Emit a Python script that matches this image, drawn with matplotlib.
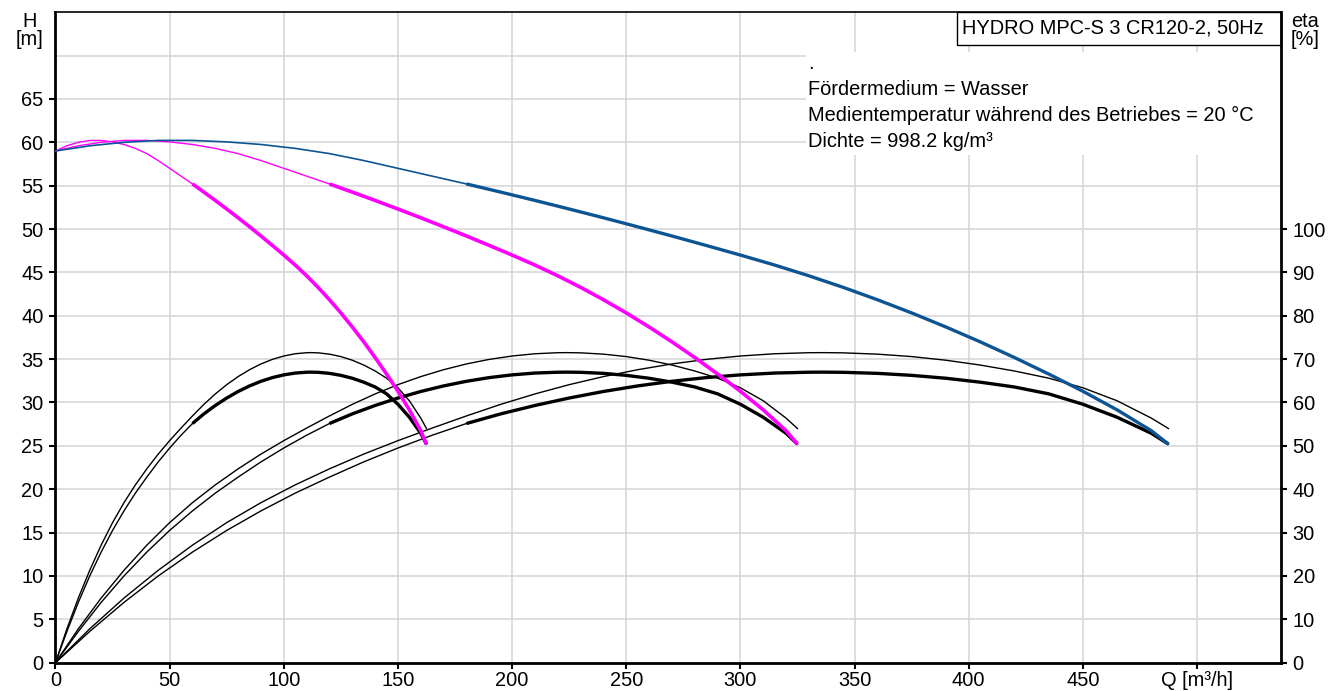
import matplotlib
matplotlib.use("Agg")
import matplotlib.pyplot as plt
from matplotlib.patches import Rectangle
from matplotlib.transforms import Affine2D

plt.rcParams['font.family'] = ['Liberation Sans', 'DejaVu Sans']

# head curves H [m] over Q [m3/h] (1, 2 and 3 pumps running)
q_h1 = [0, 5, 10, 15, 20, 25, 30, 35, 40, 45, 50, 55, 60, 65, 70, 75, 80, 85, 90, 95, 100,
        105, 110, 115, 120, 125, 130, 135, 140, 145, 150, 155, 160, 162.5]
h_1 = [59.0, 59.6, 60.0, 60.22, 60.22, 60.05, 59.75, 59.3, 58.7, 57.9, 57.0, 56.1, 55.2, 54.26,
       53.3, 52.31, 51.3, 50.26, 49.2, 48.11, 47.0, 45.85, 44.61, 43.28, 41.85, 40.33, 38.71,
       37.0, 35.19, 33.29, 31.3, 29.15, 26.75, 25.2]
q_h2 = [0, 10, 20, 30, 40, 50, 60, 70, 80, 90, 100, 110, 120, 130, 140, 150, 160, 170, 180, 190,
        200, 210, 220, 230, 240, 250, 260, 270, 280, 290, 300, 310, 320, 325]
h_2 = [59.0, 59.6, 60.0, 60.22, 60.22, 60.05, 59.75, 59.3, 58.7, 57.9, 57.0, 56.1, 55.2, 54.26,
       53.3, 52.31, 51.3, 50.26, 49.2, 48.11, 47.0, 45.85, 44.61, 43.28, 41.85, 40.33, 38.71,
       37.0, 35.19, 33.29, 31.3, 29.15, 26.75, 25.2]
q_h3 = [0, 15, 30, 45, 60, 75, 90, 105, 120, 135, 150, 165, 180, 195, 210, 225, 240, 255, 270,
        285, 300, 315, 330, 345, 360, 375, 390, 405, 420, 435, 450, 465, 480, 487.5]
h_3 = [59.0, 59.6, 60.0, 60.22, 60.22, 60.05, 59.75, 59.3, 58.7, 57.9, 57.0, 56.1, 55.2, 54.26,
       53.3, 52.31, 51.3, 50.26, 49.2, 48.11, 47.0, 45.85, 44.61, 43.28, 41.85, 40.33, 38.71,
       37.0, 35.19, 33.29, 31.3, 29.15, 26.75, 25.2]

# efficiency curves eta [%]: upper = pump, lower = total
q_eta1 = [0, 5, 10, 15, 20, 25, 30, 35, 40, 45, 50, 55, 60, 65, 70, 75, 80, 85, 90, 95, 100,
          105, 110, 112, 115, 120, 125, 130, 135, 140, 145, 150, 155, 160, 162.5]
q_eta2 = [0, 10, 20, 30, 40, 50, 60, 70, 80, 90, 100, 110, 120, 130, 140, 150, 160, 170, 180,
          190, 200, 210, 220, 224, 230, 240, 250, 260, 270, 280, 290, 300, 310, 320, 325]
q_eta3 = [0, 15, 30, 45, 60, 75, 90, 105, 120, 135, 150, 165, 180, 195, 210, 225, 240, 255, 270,
          285, 300, 315, 330, 336, 345, 360, 375, 390, 405, 420, 435, 450, 465, 480, 487.5]
eta_pump_1 = [0, 7.8, 14.9, 21.3, 27.1, 32.3, 36.9, 41.0, 44.7, 48.1, 51.2, 54.1, 56.9, 59.57,
              61.97, 64.11, 65.97, 67.56, 68.89, 69.94, 70.72, 71.24, 71.48, 71.5, 71.45, 71.15,
              70.59, 69.75, 68.64, 67.27, 65.62, 63.4, 60.4, 56.4, 54.0]
eta_pump_2 = [0, 7.8, 14.9, 21.3, 27.1, 32.3, 36.9, 41.0, 44.7, 48.1, 51.2, 54.1, 56.9, 59.57,
              61.97, 64.11, 65.97, 67.56, 68.89, 69.94, 70.72, 71.24, 71.48, 71.5, 71.45, 71.15,
              70.59, 69.75, 68.64, 67.27, 65.62, 63.4, 60.4, 56.4, 54.0]
eta_pump_3 = [0, 7.8, 14.9, 21.3, 27.1, 32.3, 36.9, 41.0, 44.7, 48.1, 51.2, 54.1, 56.9, 59.57,
              61.97, 64.11, 65.97, 67.56, 68.89, 69.94, 70.72, 71.24, 71.48, 71.5, 71.45, 71.15,
              70.59, 69.75, 68.64, 67.27, 65.62, 63.4, 60.4, 56.4, 54.0]
eta_tot_1 = [0, 7.2, 13.9, 20.0, 25.5, 30.5, 35.0, 39.1, 42.8, 46.3, 49.5, 52.45, 55.15, 57.37,
             59.31, 61.03, 62.54, 63.82, 64.89, 65.74, 66.37, 66.79, 66.98, 67.0, 66.96, 66.72,
             66.26, 65.59, 64.69, 63.58, 62.0, 59.6, 56.6, 52.9, 50.4]
eta_tot_2 = [0, 7.2, 13.9, 20.0, 25.5, 30.5, 35.0, 39.1, 42.8, 46.3, 49.5, 52.45, 55.15, 57.37,
             59.31, 61.03, 62.54, 63.82, 64.89, 65.74, 66.37, 66.79, 66.98, 67.0, 66.96, 66.72,
             66.26, 65.59, 64.69, 63.58, 62.0, 59.6, 56.6, 52.9, 50.4]
eta_tot_3 = [0, 7.2, 13.9, 20.0, 25.5, 30.5, 35.0, 39.1, 42.8, 46.3, 49.5, 52.45, 55.15, 57.37,
             59.31, 61.03, 62.54, 63.82, 64.89, 65.74, 66.37, 66.79, 66.98, 67.0, 66.96, 66.72,
             66.26, 65.59, 64.69, 63.58, 62.0, 59.6, 56.6, 52.9, 50.4]

# start of the recommended duty range (thick part)
duty_start = [60, 120, 180]

x_ticks = [0, 50, 100, 150, 200, 250, 300, 350, 400, 450, 500]
x_labels = ["0", "50", "100", "150", "200", "250", "300", "350", "400", "450", "Q [m³/h]"]
h_ticks = [0, 5, 10, 15, 20, 25, 30, 35, 40, 45, 50, 55, 60, 65]
eta_ticks = [0, 10, 20, 30, 40, 50, 60, 70, 80, 90, 100]

title = "HYDRO MPC-S 3 CR120-2, 50Hz"
info_lines = [".", "Fördermedium = Wasser",
              "Medientemperatur während des Betriebes = 20 °C",
              "Dichte = 998.2 kg/m³"]

MAGENTA = "#ff00ff"
BLUE = "#0d5592"
GRID = "#d3d5d8"
FS = 14.4


def draw_curve(ax, q, v, start, color, thin, thick, tr):
    ax.plot(q, v, color=color, lw=thin, transform=tr, zorder=3)
    if start is None:
        return
    qs = [a for a in q if a >= start]
    vs = [b for a, b in zip(q, v) if a >= start]
    ax.plot(qs, vs, color=color, lw=thick, transform=tr, zorder=3,
            solid_capstyle="butt")


fig = plt.figure(figsize=(13.34, 6.91), dpi=100)
ax = fig.add_axes([0.0416, 0.041, 0.919, 0.9413])
ax.set_xlim(0, 537)
ax.set_ylim(0, 75)

# eta is read on the right axis: 0..150 % over the same height as 0..75 m
eta_tr = Affine2D().scale(1, 0.5) + ax.transData

for q, e in [(q_eta1, eta_pump_1), (q_eta2, eta_pump_2), (q_eta3, eta_pump_3)]:
    draw_curve(ax, q, e, None, "black", 1.0, 1.0, eta_tr)
for q, e, st in [(q_eta1, eta_tot_1, duty_start[0]), (q_eta2, eta_tot_2, duty_start[1]),
                 (q_eta3, eta_tot_3, duty_start[2])]:
    draw_curve(ax, q, e, st, "black", 1.0, 2.4, eta_tr)

draw_curve(ax, q_h1, h_1, duty_start[0], MAGENTA, 1.0, 2.6, ax.transData)
draw_curve(ax, q_h2, h_2, duty_start[1], MAGENTA, 1.0, 2.6, ax.transData)
draw_curve(ax, q_h3, h_3, duty_start[2], BLUE, 1.2, 2.4, ax.transData)

ax.set_xticks(x_ticks)
ax.set_xticklabels(x_labels, fontsize=FS)
ax.set_yticks(h_ticks)
ax.set_yticklabels([str(t) for t in h_ticks], fontsize=FS)
ax.tick_params(axis="x", direction="out", length=4.5, width=1.5, pad=1.5)
ax.tick_params(axis="y", direction="out", length=4.5, width=1.5, pad=4)
ax.grid(True, color=GRID, lw=1.1)
ax.axhline(70, color=GRID, lw=1.1, zorder=1)
ax.set_axisbelow(True)

for side in ["left", "bottom"]:
    ax.spines[side].set_linewidth(2)
ax.spines["top"].set_linewidth(1.2)
ax.spines["right"].set_visible(False)

ax2 = ax.twinx()
ax2.set_ylim(0, 150)
ax2.set_yticks(eta_ticks)
ax2.set_yticklabels([str(t) for t in eta_ticks], fontsize=FS)
ax2.tick_params(axis="y", direction="out", length=4.5, width=1.5, pad=3.5)
for side in ["left", "bottom", "top"]:
    ax2.spines[side].set_visible(False)
ax2.spines["right"].set_linewidth(2)

# axis captions
ax.text(-0.021, 0.9852, "H", transform=ax.transAxes, ha="center", va="center", fontsize=FS)
ax.text(-0.021, 0.9575, "[m]", transform=ax.transAxes, ha="center", va="center", fontsize=FS)
ax.text(1.019, 0.9852, "eta", transform=ax.transAxes, ha="center", va="center", fontsize=FS)
ax.text(1.019, 0.9575, "[%]", transform=ax.transAxes, ha="center", va="center", fontsize=FS)

# title box
ax.add_patch(Rectangle((0.7353, 0.9497), 0.2647, 0.0503, transform=ax.transAxes,
                       facecolor="white", edgecolor="black", lw=1.0, zorder=4, clip_on=False))
ax.text(0.7394, 0.975, title, transform=ax.transAxes, ha="left", va="center",
        fontsize=FS, zorder=5)

# medium info block
ax.add_patch(Rectangle((0.612, 0.7807), 0.388, 0.1583, transform=ax.transAxes,
                       facecolor="white", edgecolor="none", zorder=2))
for i, line in enumerate(info_lines):
    ax.text(0.6138, 0.9205 - i * 0.0397, line, transform=ax.transAxes, ha="left",
            va="center", fontsize=FS, zorder=5)

fig.savefig("out.png", dpi=100)
